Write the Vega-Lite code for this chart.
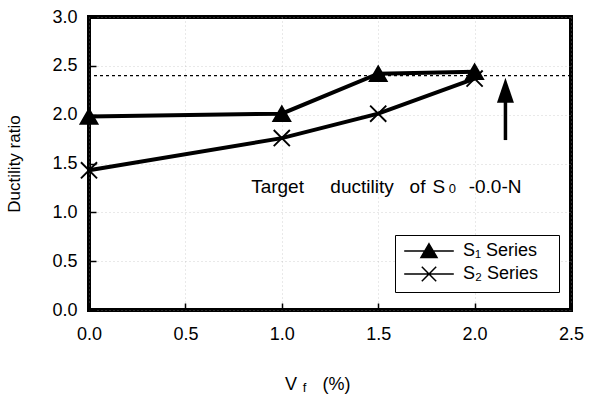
{
  "$schema": "https://vega.github.io/schema/vega-lite/v6.json",
  "autosize": "none",
  "width": 482,
  "height": 293,
  "padding": {"left": 89, "top": 17, "right": 20, "bottom": 84},
  "background": "white",
  "config": {
    "view": {"stroke": "black", "strokeWidth": 4},
    "font": "Liberation Sans",
    "text": {"font": "Liberation Sans", "fill": "black", "baseline": "middle", "align": "center", "fontSize": 19},
    "axis": {
      "domain": false,
      "tickColor": "black",
      "tickWidth": 1.5,
      "tickSize": -7,
      "labelFlush": false,
      "labelFont": "Liberation Sans",
      "labelFontSize": 18,
      "labelColor": "black",
      "gridColor": "#aaaaaa",
      "gridDash": [1, 3],
      "gridWidth": 1,
      "gridOpacity": 0.5
    }
  },
  "datasets": {
    "pts": [
      {"vf": 0.0, "ratio": 1.98, "series": "S₁ Series"},
      {"vf": 1.0, "ratio": 2.01, "series": "S₁ Series"},
      {"vf": 1.5, "ratio": 2.42, "series": "S₁ Series"},
      {"vf": 2.0, "ratio": 2.44, "series": "S₁ Series"},
      {"vf": 0.0, "ratio": 1.43, "series": "S₂ Series"},
      {"vf": 1.0, "ratio": 1.76, "series": "S₂ Series"},
      {"vf": 1.5, "ratio": 2.01, "series": "S₂ Series"},
      {"vf": 2.0, "ratio": 2.37, "series": "S₂ Series"}
    ],
    "one": [{}]
  },
  "layer": [
    {
      "data": {"values": [{"target": 2.4}]},
      "mark": {"type": "rule", "stroke": "black", "strokeWidth": 1.3, "strokeDash": [3, 3]},
      "encoding": {
        "y": {"field": "target", "type": "quantitative", "scale": {"domain": [0, 3], "nice": false, "zero": false},
          "axis": {"values": [0, 0.5, 1, 1.5, 2, 2.5, 3], "format": ".1f", "title": "Ductility ratio",
            "titleFont": "Liberation Sans", "titleFontSize": 17, "titleFontWeight": "normal", "titleColor": "black",
            "labelPadding": 19, "titlePadding": 28}}
      }
    },
    {
      "data": {"name": "pts"},
      "mark": {"type": "line", "stroke": "black", "strokeWidth": 4},
      "encoding": {
        "x": {"field": "vf", "type": "quantitative", "scale": {"domain": [0, 2.5], "nice": false, "zero": false},
          "axis": {"values": [0, 0.5, 1, 1.5, 2, 2.5], "format": ".1f", "title": null, "labelPadding": 22}},
        "y": {"field": "ratio", "type": "quantitative", "scale": {"domain": [0, 3], "nice": false, "zero": false}},
        "detail": {"field": "series"}
      }
    },
    {
      "data": {"name": "pts"},
      "transform": [{"filter": "datum.series == 'S₁ Series'"}],
      "mark": {"type": "point", "shape": "triangle-up", "filled": true, "fill": "black", "stroke": "black", "size": 280, "opacity": 1},
      "encoding": {
        "x": {"field": "vf", "type": "quantitative", "scale": {"domain": [0, 2.5], "nice": false, "zero": false}},
        "y": {"field": "ratio", "type": "quantitative", "scale": {"domain": [0, 3], "nice": false, "zero": false}}
      }
    },
    {
      "data": {"name": "pts"},
      "transform": [{"filter": "datum.series == 'S₂ Series'"}],
      "mark": {"type": "point", "shape": "M-1,-1L1,1M-1,1L1,-1", "filled": false, "stroke": "black", "strokeWidth": 1.9, "size": 260, "opacity": 1},
      "encoding": {
        "x": {"field": "vf", "type": "quantitative", "scale": {"domain": [0, 2.5], "nice": false, "zero": false}},
        "y": {"field": "ratio", "type": "quantitative", "scale": {"domain": [0, 3], "nice": false, "zero": false}}
      }
    },
    {
      "data": {"name": "pts"},
      "mark": {"type": "point", "filled": true, "fill": "black", "stroke": "black", "strokeWidth": 3, "opacity": 0},
      "encoding": {
        "x": {"field": "vf", "type": "quantitative", "scale": {"domain": [0, 2.5], "nice": false, "zero": false}},
        "y": {"field": "ratio", "type": "quantitative", "scale": {"domain": [0, 3], "nice": false, "zero": false}},
        "shape": {"field": "series", "type": "nominal",
          "scale": {"domain": ["S₁ Series", "S₂ Series"], "range": ["M-3.1,0H3.1M0,-0.9L1,0.8L-1,0.8Z", "M-3.1,0H3.1M-0.9,-0.9L0.9,0.9M-0.9,0.9L0.9,-0.9"]},
          "legend": {"title": null, "orient": "none", "legendX": 306, "legendY": 218,
            "strokeColor": "black", "fillColor": "white", "padding": 7,
            "symbolSize": 256, "symbolOffset": 18, "labelOffset": 25,
            "labelFontSize": 18, "labelFont": "Liberation Sans", "labelColor": "black",
            "labelExpr": "datum.label + '\u2800'",
            "rowPadding": 2,
            "encode": {"symbols": {"update": {"fill": {"value": "black"}, "stroke": {"value": "black"}, "strokeWidth": {"value": 3.8}, "opacity": {"value": 1}}}}}}
      }
    },
    {
      "data": {"values": [{"x": 2.16, "y": 1.74, "y2": 2.14}]},
      "mark": {"type": "rule", "stroke": "black", "strokeWidth": 3.5},
      "encoding": {
        "x": {"field": "x", "type": "quantitative", "scale": {"domain": [0, 2.5], "nice": false, "zero": false}},
        "y": {"field": "y", "type": "quantitative", "scale": {"domain": [0, 3], "nice": false, "zero": false}},
        "y2": {"field": "y2"}
      }
    },
    {
      "data": {"values": [{"x": 2.16, "y": 2.25}]},
      "mark": {"type": "point", "shape": "M0,-1.25L0.85,1.25L-0.85,1.25Z", "filled": true, "fill": "black", "size": 400, "opacity": 1},
      "encoding": {
        "x": {"field": "x", "type": "quantitative", "scale": {"domain": [0, 2.5], "nice": false, "zero": false}},
        "y": {"field": "y", "type": "quantitative", "scale": {"domain": [0, 3], "nice": false, "zero": false}}
      }
    },
    {"data": {"name": "one"}, "mark": {"type": "text", "text": "Target"}, "encoding": {"x": {"datum": 0.978}, "y": {"datum": 1.256}}},
    {"data": {"name": "one"}, "mark": {"type": "text", "text": "ductility"}, "encoding": {"x": {"datum": 1.416}, "y": {"datum": 1.256}}},
    {"data": {"name": "one"}, "mark": {"type": "text", "text": "of"}, "encoding": {"x": {"datum": 1.704}, "y": {"datum": 1.256}}},
    {"data": {"name": "one"}, "mark": {"type": "text", "text": "S"}, "encoding": {"x": {"datum": 1.815}, "y": {"datum": 1.256}}},
    {"data": {"name": "one"}, "mark": {"type": "text", "text": "0", "fontSize": 13, "dy": 2}, "encoding": {"x": {"datum": 1.885}, "y": {"datum": 1.256}}},
    {"data": {"name": "one"}, "mark": {"type": "text", "text": "-0.0-N"}, "encoding": {"x": {"datum": 2.106}, "y": {"datum": 1.256}}},
    {"data": {"name": "one"}, "mark": {"type": "text", "text": "V", "fontSize": 18}, "encoding": {"x": {"datum": 1.048}, "y": {"datum": -0.77}}},
    {"data": {"name": "one"}, "mark": {"type": "text", "text": "f", "fontSize": 13}, "encoding": {"x": {"datum": 1.118}, "y": {"datum": -0.8}}},
    {"data": {"name": "one"}, "mark": {"type": "text", "text": "(%)", "fontSize": 18}, "encoding": {"x": {"datum": 1.284}, "y": {"datum": -0.77}}}
  ]
}
